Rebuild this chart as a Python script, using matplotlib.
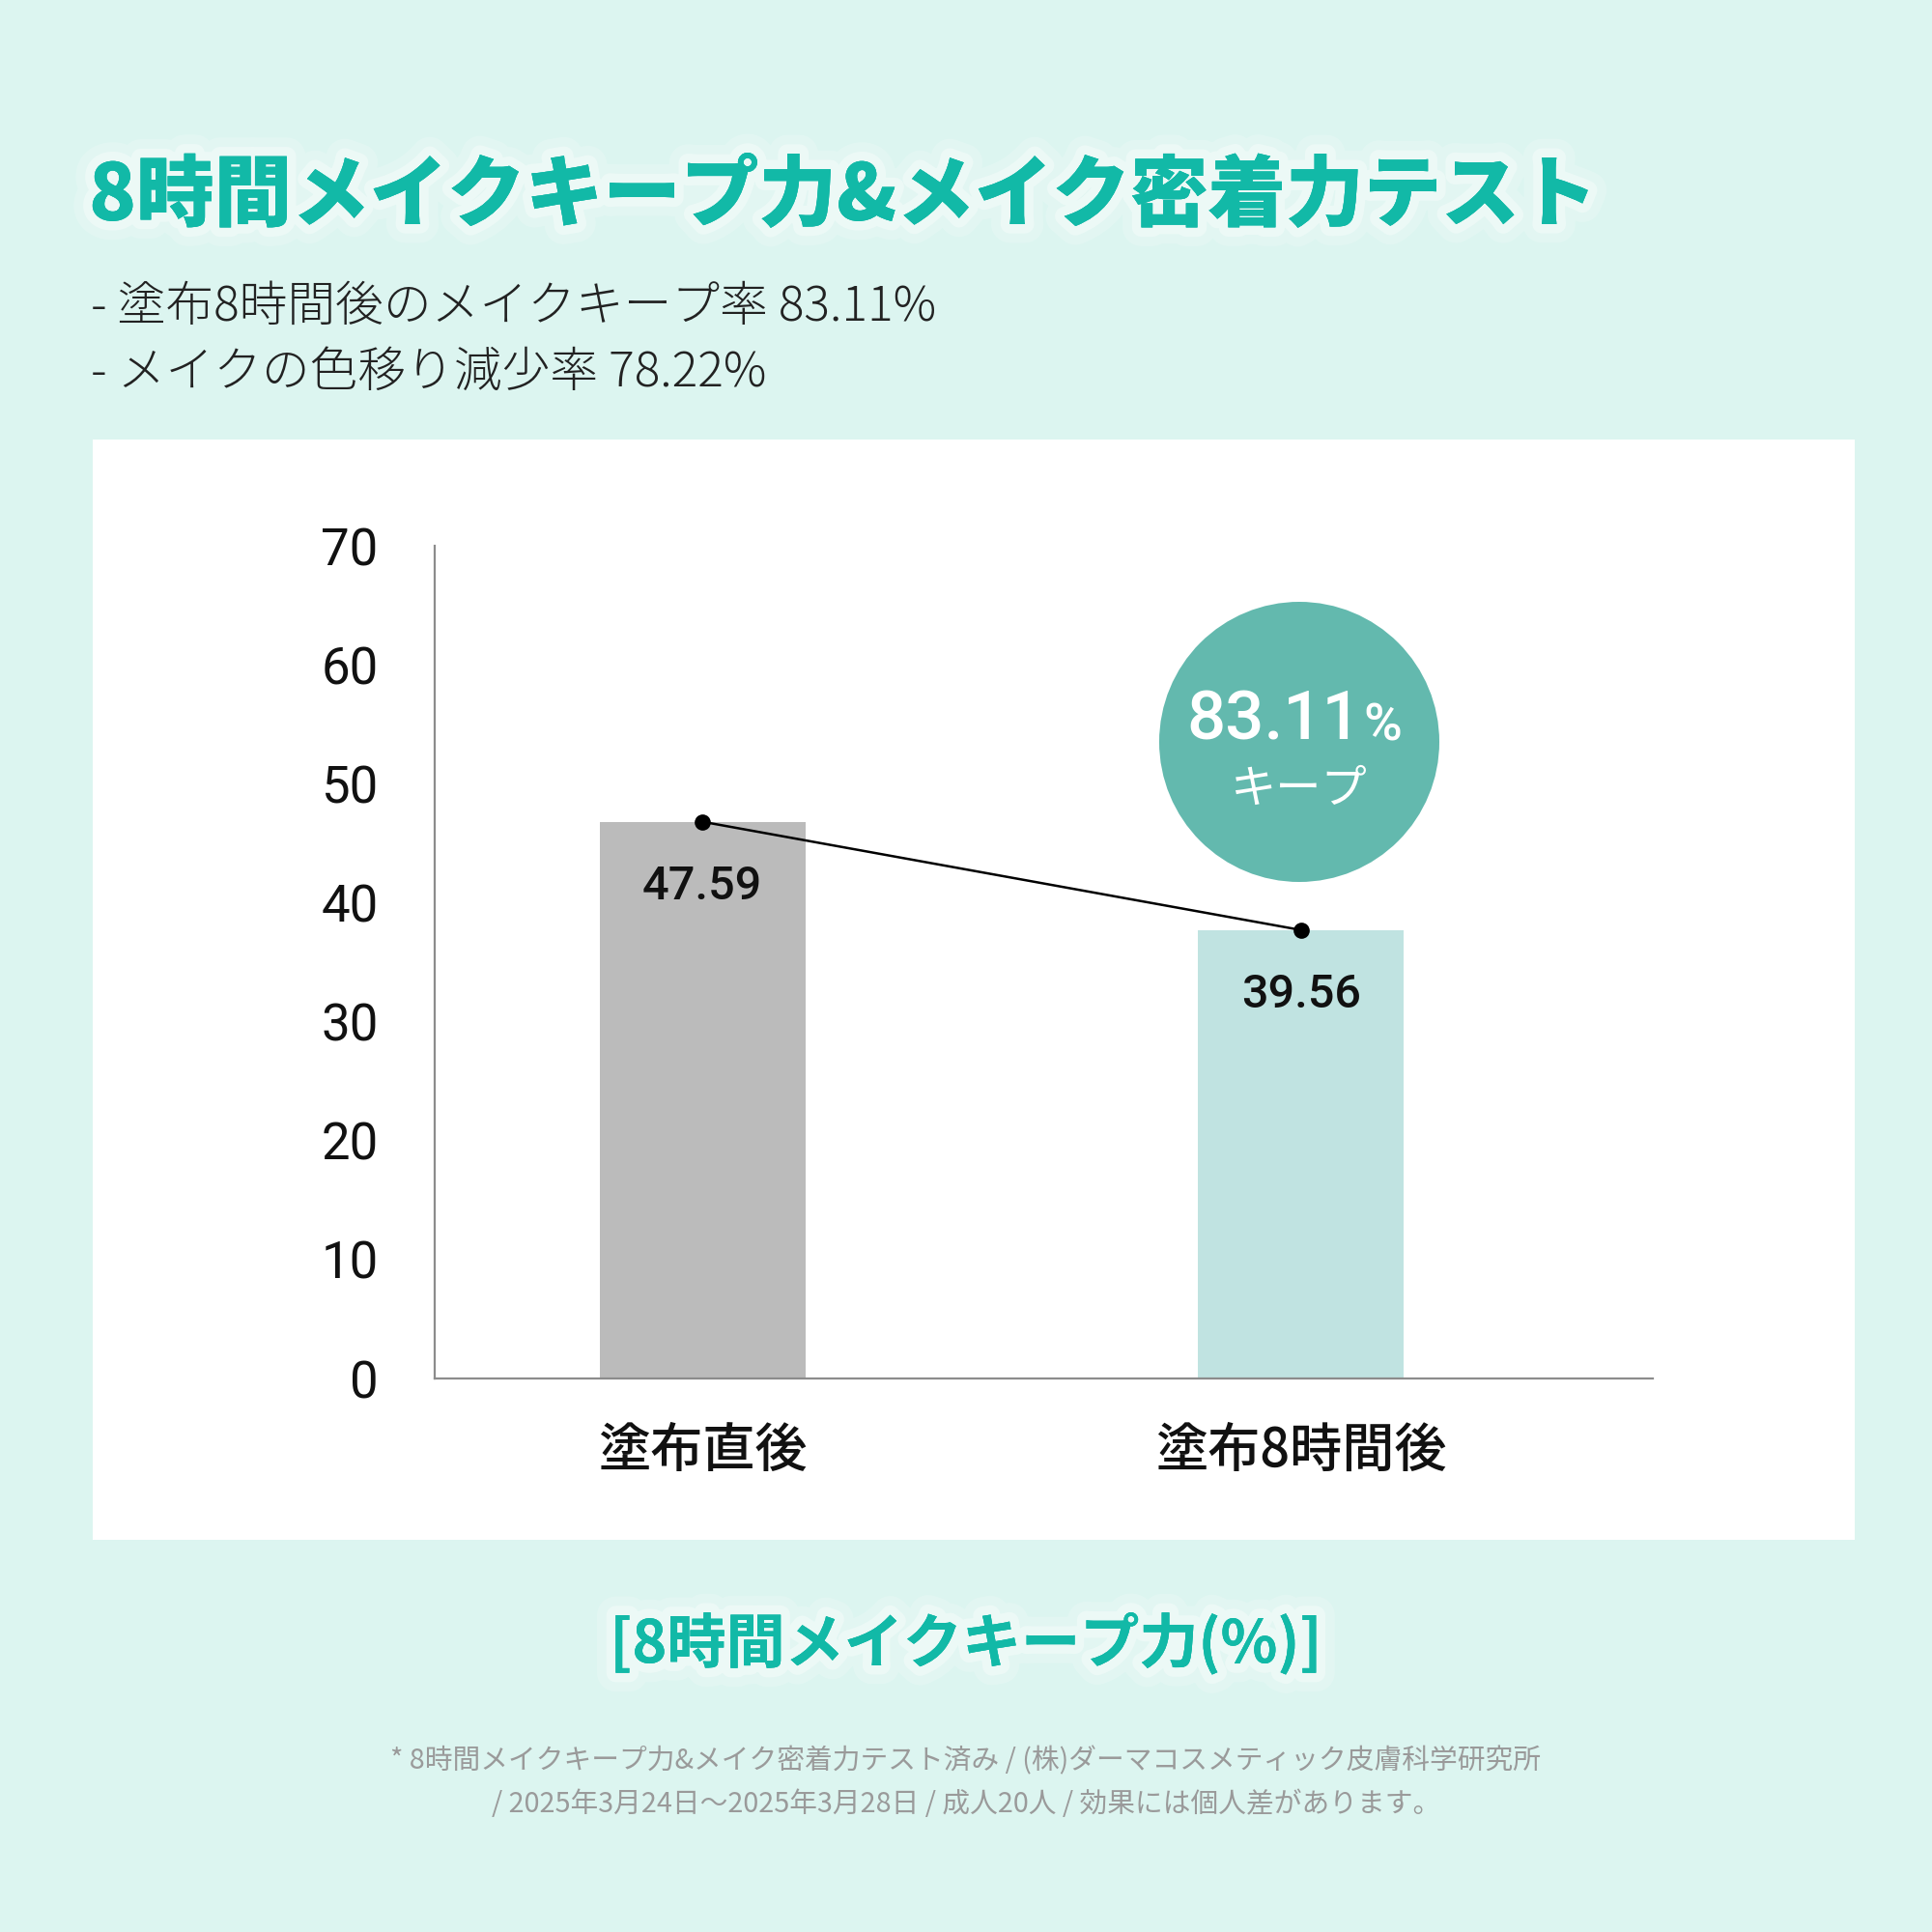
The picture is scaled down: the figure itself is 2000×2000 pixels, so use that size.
import matplotlib
matplotlib.use("Agg")
import matplotlib.pyplot as plt
import matplotlib.patheffects as pe
from matplotlib.patches import Rectangle, Circle

# データ
categories = ["塗布直後", "塗布8時間後"]
bar_heights = [46.8, 37.7]        # 図で描かれている高さ
value_labels = ["47.59", "39.56"]  # 図に書かれている数値
y_ticks = [0, 10, 20, 30, 40, 50, 60, 70]
keep_rate = "83.11"

title = "8時間メイクキープ力&メイク密着力テスト"
sub_lines = ["- 塗布8時間後のメイクキープ率 83.11%", "- メイクの色移り減少率 78.22%"]
caption = "[8時間メイクキープ力(%)]"
notes = ["* 8時間メイクキープ力&メイク密着力テスト済み / (株)ダーマコスメティック皮膚科学研究所",
         "/ 2025年3月24日～2025年3月28日 / 成人20人 / 効果には個人差があります。"]

JP = ["Noto Sans CJK JP", "DejaVu Sans"]
NUM = ["Roboto", "DejaVu Sans"]

BG = "#dcf5f0"
TEAL = "#12b9a7"
CIRCLE = "#63b9ae"
bar_colors = ["#bbbbbb", "#c0e3e1"]

fig = plt.figure(figsize=(10, 10), dpi=200, facecolor=BG)

# 白いパネル
fig.patches.append(Rectangle((0.048, 0.203), 0.912, 0.5695, transform=fig.transFigure,
                             facecolor="white", edgecolor="none", zorder=-1))

glow = [pe.withStroke(linewidth=14, foreground="white", alpha=0.18),
        pe.withStroke(linewidth=7, foreground="white", alpha=0.35),
        pe.Normal()]

fig.text(0.046, 0.898, title, family=JP, weight="heavy", fontsize=29, color=TEAL,
         ha="left", va="center", path_effects=glow)
fig.text(0.047, 0.841, sub_lines[0], family=JP, weight="light", fontsize=17.9,
         color="#222222", ha="left", va="center")
fig.text(0.047, 0.807, sub_lines[1], family=JP, weight="light", fontsize=17.9,
         color="#222222", ha="left", va="center")

# グラフ
ax = fig.add_axes([0.225, 0.2865, 0.6305, 0.431])
ax.set_facecolor("none")
x = list(range(len(categories)))
ax.bar(x, bar_heights, width=0.344, color=bar_colors, zorder=1)
ax.plot(x, bar_heights, color="black", lw=0.9, marker="o", markersize=5, zorder=3)
for xi, h, lab in zip(x, bar_heights, value_labels):
    ax.text(xi, h - 5.5, lab, family=NUM, weight="medium", fontsize=17.5,
            color="#111111", ha="center", va="center", zorder=4)

ax.set_xlim(-0.4475, 1.588)
ax.set_ylim(0, 70)
ax.set_yticks(y_ticks)
ax.set_yticklabels([str(t) for t in y_ticks], family=NUM, fontsize=19, color="#111111")
ax.set_xticks(x)
ax.set_xticklabels(categories, family=JP, weight="medium", fontsize=19.5, color="#111111")
ax.tick_params(axis="y", length=0, pad=21)
ax.tick_params(axis="x", length=0, pad=17)
for s in ["top", "right"]:
    ax.spines[s].set_visible(False)
for s in ["left", "bottom"]:
    ax.spines[s].set_color("#8c8c8c")
    ax.spines[s].set_linewidth(0.8)

# キープ率の円
fig.patches.append(Circle((0.6725, 0.616), 0.0725, transform=fig.transFigure,
                          facecolor=CIRCLE, edgecolor="none", zorder=5))
fig.text(0.7045, 0.627, keep_rate, family=NUM, weight="medium", fontsize=25.5,
         color="white", ha="right", va="center", zorder=6)
fig.text(0.7055, 0.624, "%", family=NUM, weight="medium", fontsize=19.5,
         color="white", ha="left", va="center", zorder=6)
fig.text(0.6725, 0.591, "キープ", family=JP, fontsize=17, color="white",
         ha="center", va="center", zorder=6)

fig.text(0.5, 0.149, caption, family=JP, weight="bold", fontsize=22, color=TEAL,
         ha="center", va="center", path_effects=glow)
fig.text(0.5, 0.0885, notes[0], family=JP, fontsize=10.35, color="#9a9a9a",
         ha="center", va="center")
fig.text(0.5, 0.066, notes[1], family=JP, fontsize=10.35, color="#9a9a9a",
         ha="center", va="center")

fig.savefig("out.png", dpi=200, facecolor=BG)
